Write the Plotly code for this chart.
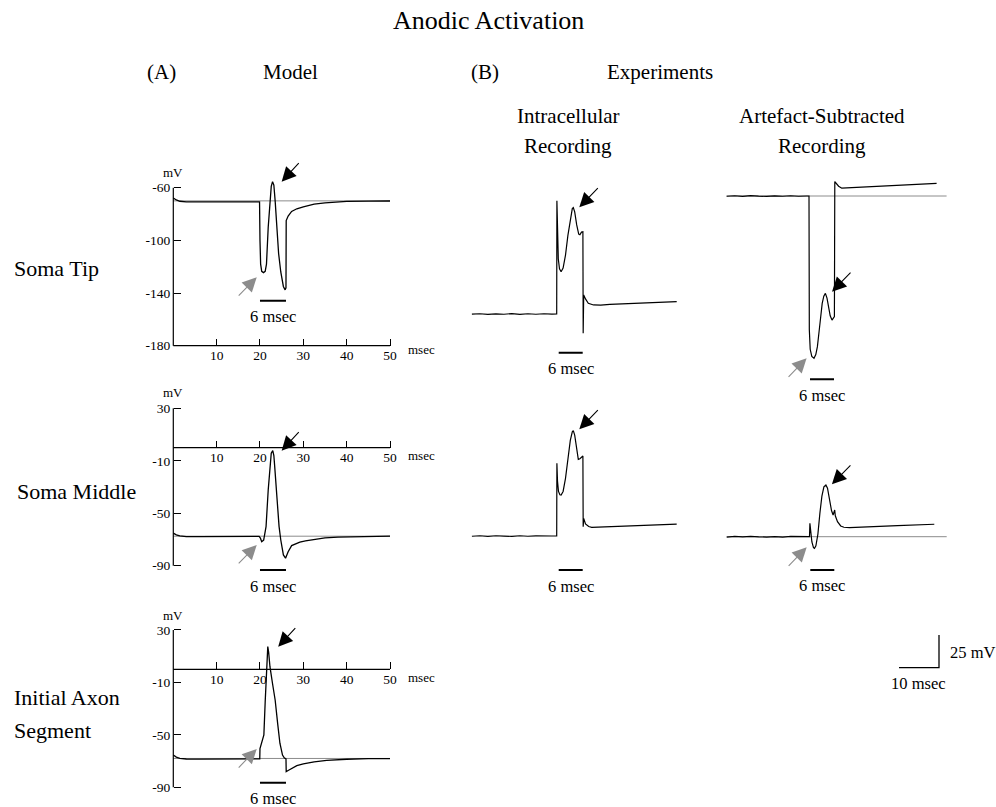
import plotly.graph_objects as go

# ---------------------------------------------------------------- data
# Model traces: time (msec) and membrane potential (mV)
soma_tip_t = [0, 0.7, 1.5, 3, 6, 12, 19.9, 20.0, 20.15, 20.4, 20.8, 21.2, 21.5, 21.9, 22.3, 22.6, 22.9,
              23.2, 23.5, 23.85, 24.3, 24.8, 25.4, 25.8, 26.0, 26.05, 26.5, 27.3, 28.5, 30, 32.5, 35, 40, 45, 50]
soma_tip_v = [-67.8, -69.3, -70.3, -70.8, -70.8, -70.7, -70.7, -100, -118, -123.5, -124.5, -123.5, -118, -90,
              -68, -59, -55.4, -58, -70, -89.6, -110, -124, -135, -137.6, -136, -85, -81.5, -78, -76, -74.5,
              -72.5, -71.5, -70.4, -70.2, -70.1]

soma_mid_t = [0, 0.7, 1.5, 3, 6, 12, 19.8, 20.1, 20.4, 20.85, 21.4, 21.9, 22.3, 22.6, 22.95, 23.2, 23.4,
              23.7, 24.0, 24.4, 24.8, 25.4, 25.9, 26.5, 27.3, 28.2, 29.2, 30.5, 32.3, 35, 38, 42, 46, 50]
soma_mid_v = [-65.2, -66.5, -67.3, -67.8, -67.9, -67.8, -67.7, -69, -71.7, -70.5, -60.2, -32.3, -12, -4.3,
              -2.3, -6, -14.5, -28, -45, -60, -70.4, -81.8, -84.3, -79.3, -74.7, -73.2, -72.1, -71, -69.9,
              -68.8, -68.2, -67.8, -67.6, -67.5]

axon_t = [0, 0.7, 1.5, 3, 6, 12, 19.95, 20.0, 20.4, 20.9, 21.2, 21.5, 21.8, 22.0, 22.3, 22.9, 23.5, 24.1,
          24.6, 25.2, 25.6, 26.0, 26.05, 26.6, 27.3, 28.5, 30, 32.5, 35.4, 40, 45, 50]
axon_v = [-65.4, -67.0, -67.9, -68.4, -68.5, -68.4, -68.3, -60.5, -56.5, -50, -25, 2, 17.3, 13, 2, -11,
          -23.4, -42, -56.4, -65.4, -67.5, -68.3, -78, -77, -75.5, -73.5, -72.2, -70.6, -69.5, -68.6,
          -68.2, -68.1]

# Resting levels (grey reference lines)
rest_tip = -70.0
rest_mid = -67.5
rest_axon = -68.0
rest_exp = -70.0

# Experimental recordings (msec, mV), stimulus onset at 20 msec
intra_tip_t = [-1.2, 0.8, 2.8, 4.8, 6.8, 8.8, 10.8, 12.8, 14.8, 16.8, 18.8, 20.0, 20.05, 20.2, 20.4, 20.7,
               21.1, 21.6, 22.2, 22.8, 23.4, 23.9, 24.15, 24.5, 25.0, 25.5, 25.8, 26.2, 26.55, 26.62, 26.75,
               27.2, 27.9, 29.2, 31, 33.3, 36, 39, 42, 45, 50]
intra_tip_v = [-70.1, -69.8, -70.3, -69.9, -70.2, -69.7, -70.3, -69.8, -70.2, -69.8, -70.1, -70.0, 16.5, -10,
               -28, -35.5, -37.7, -35, -25, -10, 3, 10.5, 11.2, 8, -2, -9, -9.5, -7.5, -7.2, -84.7, -55.5,
               -58.5, -61.8, -63.1, -63.3, -62.7, -62.4, -61.8, -61.5, -61.0, -60.6]

sub_tip_t = [-0.6, 1.4, 3.4, 5.4, 7.4, 9.4, 11.4, 13.4, 15.4, 17.4, 19.4, 20.0, 20.08, 20.3, 20.7, 21.25,
             21.7, 22.1, 22.5, 22.9, 23.3, 23.7, 24.1, 24.5, 24.9, 25.3, 25.75, 26.1, 26.35, 26.45, 26.8,
             27.4, 28.2, 29.5, 31.5, 34, 37, 40, 43, 46, 49, 51.9]
sub_tip_v = [-70.2, -69.8, -70.3, -69.7, -70.1, -70.3, -69.9, -70.2, -69.8, -70.2, -70.0, -70.0, -172, -187,
             -192.5, -193.9, -191, -185, -174, -162, -152, -146.5, -144.3, -148, -155, -161.5, -164.7,
             -163.5, -162, -59, -60.5, -62.5, -64, -63.8, -63.2, -62.9, -62.3, -62.2, -61.7, -61.5, -61.0,
             -60.3]

intra_mid_t = [-1.2, 0.8, 2.8, 4.8, 6.8, 8.8, 10.8, 12.8, 14.8, 16.8, 18.8, 20.0, 20.05, 20.2, 20.45, 20.8,
               21.1, 21.6, 22.2, 22.8, 23.4, 23.9, 24.15, 24.5, 25.0, 25.4, 25.8, 26.2, 26.55, 26.62, 26.75,
               27.2, 28.0, 28.75, 31, 35, 40, 45, 50]
intra_mid_v = [-70.2, -69.8, -70.3, -69.8, -70.1, -70.3, -69.8, -70.2, -69.9, -70.2, -70.0, -70.0, -14.5, -28,
               -36, -38.5, -38.7, -36, -26, -10, 3, 9.5, 10.4, 7, -4, -11.5, -11, -9.5, -8.9, -62.9, -56.5,
               -60.8, -62.8, -63.4, -63.2, -62.6, -62.2, -61.6, -61.0]

sub_mid_t = [-0.7, 1.3, 3.3, 5.3, 7.3, 9.3, 11.3, 13.3, 15.3, 17.3, 19.3, 20.0, 20.1, 20.3, 20.6, 21.0,
             21.25, 21.6, 22.1, 22.6, 23.1, 23.6, 24.1, 24.5, 25.0, 25.5, 25.9, 26.2, 26.3, 26.45, 27.0,
             27.8, 28.6, 30, 33, 36, 39, 42, 45, 48, 51.2]
sub_mid_v = [-70.3, -69.8, -70.2, -69.7, -70.1, -70.3, -69.9, -70.3, -69.8, -70.1, -70.0, -70.0, -59.8, -65,
             -74, -78.3, -78.9, -77, -68, -52, -39, -32, -30.5, -33, -42, -50, -53.4, -50, -49.6, -54,
             -58.5, -61.8, -62.8, -63, -62.5, -62.3, -62.0, -61.6, -61.3, -61.0, -60.5]

# Tick labels of the model axes
time_ticks = [10, 20, 30, 40, 50]
tip_mv_ticks = [-60, -100, -140, -180]
mid_mv_ticks = [30, -10, -50, -90]

# Stimulus duration bar (msec) and calibration bar sizes
stim_ms = 6
cal_ms = 10
cal_mv = 25

# ---------------------------------------------------------------- layout helpers
W, H = 996, 807
SERIF = "Liberation Serif"
GREY = "#8c8c8c"

fig = go.Figure()
layout = dict(width=W, height=H, margin=dict(l=0, r=0, t=0, b=0), showlegend=False,
              paper_bgcolor="white", plot_bgcolor="rgba(0,0,0,0)",
              font=dict(family=SERIF, color="black"))
shapes, annots = [], []


def make_axes(n, xpx0, xval0, xscale, xrange, ypx0, yval0, yscale, yrange):
    """Create an axis pair whose data units map to fixed pixel scales."""
    left = xpx0 + (xrange[0] - xval0) * xscale
    right = xpx0 + (xrange[1] - xval0) * xscale
    top = ypx0 - (yrange[1] - yval0) * yscale
    bottom = ypx0 - (yrange[0] - yval0) * yscale
    sx = "" if n == 1 else str(n)
    xa = dict(domain=[left / W, right / W], range=list(xrange), showgrid=False, zeroline=False,
              showline=False, fixedrange=True)
    ya = dict(domain=[1 - bottom / H, 1 - top / H], range=list(yrange), showgrid=False, zeroline=False,
              showline=False, fixedrange=True)
    layout["xaxis" + sx] = xa
    layout["yaxis" + sx] = ya
    px = lambda t: xpx0 + (t - xval0) * xscale
    py = lambda v: ypx0 - (v - yval0) * yscale
    return "x" + sx, "y" + sx, xa, ya, px, py


def text(px, py, s, size, xanchor="center"):
    annots.append(dict(x=px / W, y=1 - py / H, xref="paper", yref="paper", text=s, showarrow=False,
                       xanchor=xanchor, yanchor="middle", font=dict(family=SERIF, size=size, color="black")))


def arrow(xr, yr, t, v, dx, dy, color):
    annots.append(dict(x=t, y=v, xref=xr, yref=yr, ax=dx, ay=dy, axref="pixel", ayref="pixel", text="",
                       showarrow=True, arrowhead=2, arrowsize=2.6, arrowwidth=1.1, arrowcolor=color))


def trace(xr, yr, t, v, width=1.3):
    fig.add_trace(go.Scatter(x=t, y=v, xaxis=xr, yaxis=yr, mode="lines", hoverinfo="skip",
                             line=dict(color="black", width=width)))


def hline(xr, yr, x0, x1, y, color="black", width=1.2, layer="above"):
    shapes.append(dict(type="line", xref=xr, yref=yr, x0=x0, x1=x1, y0=y, y1=y, layer=layer,
                       line=dict(color=color, width=width)))


def vline(xr, yr, x, y0, y1, color="black", width=1.2):
    shapes.append(dict(type="line", xref=xr, yref=yr, x0=x, x1=x, y0=y0, y1=y1,
                       line=dict(color=color, width=width)))


def stim_bar(xr, yr, t0, v, label_dy=16):
    trace(xr, yr, [t0, t0 + stim_ms], [v, v], width=2)
    annots.append(dict(x=t0 + stim_ms / 2, y=v, xref=xr, yref=yr, text=f"{stim_ms} msec", showarrow=False,
                       xanchor="center", yanchor="middle", yshift=-label_dy,
                       font=dict(family=SERIF, size=16.5, color="black")))


# ---------------------------------------------------------------- (A) model panels
MX0, MXS = 173.3, 4.334
tick_font = dict(family=SERIF, size=13.5, color="black")


def model_panel(n, ypx0, yval0, yscale, yrange, yticks, xaxis_at, t, v, rest, bar_v,
                mv_py, msec_py, black_tip, grey_tip):
    xr, yr, xa, ya, px, py = make_axes(n, MX0, 0, MXS, (-2, 52), ypx0, yval0, yscale, yrange)
    common = dict(ticks="inside", ticklen=7, tickwidth=1.2, tickcolor="black", tickfont=tick_font)
    xa.update(anchor="free", position=1 - py(xaxis_at) / H, tickvals=time_ticks,
              ticktext=[str(k) for k in time_ticks], **common)
    ya.update(anchor="free", position=px(0) / W, tickvals=yticks,
              ticktext=[str(k) for k in yticks], ticklabelstandoff=3, **common)
    # axis lines
    vline(xr, yr, 0, min(yticks), max(yticks))
    hline(xr, yr, 0, max(time_ticks), xaxis_at)
    # resting level
    hline(xr, yr, 0, max(time_ticks), rest, color=GREY, width=1, layer="below")
    trace(xr, yr, t, v)
    stim_bar(xr, yr, 20, bar_v)
    text(px(0), mv_py, "mV", 13)
    text(406, msec_py, "msec", 13, xanchor="left")
    arrow(xr, yr, black_tip[0], black_tip[1], 18.5, -20, "black")
    arrow(xr, yr, grey_tip[0], grey_tip[1], -19.5, 20, GREY)


model_panel(1, 187.7, -60, 1.3167, (-186, -48), tip_mv_ticks, -180, soma_tip_t, soma_tip_v, rest_tip,
            -145.8, 172.7, 349, (25.0, -55.4), (19.25, -128))
model_panel(2, 408.3, 30, 1.3117, (-97, 35), mid_mv_ticks, 0, soma_mid_t, soma_mid_v, rest_mid,
            -93.3, 392.7, 455, (25.0, -2.3), (19.25, -74.2))
model_panel(3, 630.0, 30, 1.3108, (-97, 35), mid_mv_ticks, 0, axon_t, axon_v, rest_axon,
            -86.5, 615, 677, (24.2, 17.3), (19.25, -60.8))

# ---------------------------------------------------------------- (B) experimental panels
EXS, EYS = 4.0, 1.31


def exp_panel(n, onset_px, base_py, xrange, yrange, t, v, bar_t0, bar_v, black_tip, grey_tip=None,
              grey_span=None):
    xr, yr, xa, ya, px, py = make_axes(n, onset_px, 20, EXS, xrange, base_py, rest_exp, EYS, yrange)
    xa.update(visible=False, anchor=yr)
    ya.update(visible=False, anchor=xr)
    if grey_span:
        hline(xr, yr, grey_span[0], grey_span[1], rest_exp, color=GREY, width=1, layer="below")
    trace(xr, yr, t, v, width=1.2)
    stim_bar(xr, yr, bar_t0, bar_v)
    arrow(xr, yr, black_tip[0], black_tip[1], 20, -20.5, "black")
    if grey_tip:
        arrow(xr, yr, grey_tip[0], grey_tip[1], -19.5, 20, GREY)


exp_panel(4, 556.7, 314.0, (-2, 52), (-106, 25), intra_tip_t, intra_tip_v, 20.5, -99.5, (25.65, 11.5))
exp_panel(5, 809.0, 196.0, (-2, 56), (-216, -50), sub_tip_t, sub_tip_v, 20.25, -209.9, (25.75, -143),
          (19.4, -193.9), (-0.6, 54.4))
exp_panel(6, 556.7, 536.0, (-2, 52), (-101, 20), intra_mid_t, intra_mid_v, 20.5, -96, (25.65, 11.5))
exp_panel(7, 809.5, 536.7, (-2, 56), (-100, -20), sub_mid_t, sub_mid_v, 20.2, -95.4, (25.6, -30),
          (19.3, -78.1), (-0.7, 54.3))

# calibration bars
xr, yr, xa, ya, px, py = make_axes(8, 899.0, 0, EXS, (-1, 11), 667.7, 0, EYS, (-2, 30))
xa.update(visible=False, anchor=yr)
ya.update(visible=False, anchor=xr)
trace(xr, yr, [0, cal_ms, cal_ms], [0, 0, cal_mv], width=1.3)
text(948, 652, f"{cal_mv} mV", 16.5, xanchor="left")
text(918, 683, f"{cal_ms} msec", 16.5)

# ---------------------------------------------------------------- headings
text(488, 20, "Anodic Activation", 26)
text(161, 72, "(A)", 21)
text(290, 72, "Model", 21)
text(485, 72, "(B)", 21)
text(660, 72, "Experiments", 21)
text(568, 116, "Intracellular", 21)
text(568, 146, "Recording", 21)
text(822, 116, "Artefact-Subtracted", 21)
text(822, 146, "Recording", 21)

text(11.7, 268, "Soma Tip", 22, xanchor="left")
text(15, 492, "Soma Middle", 22, xanchor="left")
text(11.7, 697, "Initial Axon", 22, xanchor="left")
text(11.7, 730, "Segment", 22, xanchor="left")

layout["shapes"] = shapes
layout["annotations"] = annots
fig.update_layout(**layout)
fig.write_html("out.html")
